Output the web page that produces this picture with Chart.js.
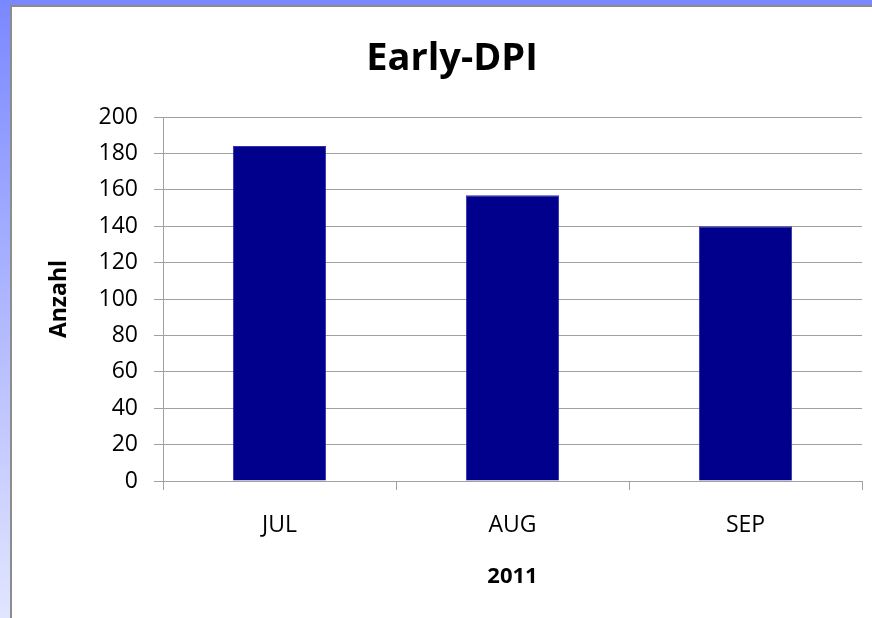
<!DOCTYPE html>
<html>
<head>
<meta charset="utf-8">
<script src="https://cdn.jsdelivr.net/npm/chart.js@4"></script>
<style>
  html, body { margin: 0; padding: 0; }
  body {
    width: 872px; height: 618px; overflow: hidden; position: relative;
    background: linear-gradient(to bottom, #7a88ff 0%, #b4bcff 55%, #e2e5ff 100%);
  }
  #panel {
    position: absolute; left: 10px; top: 5px; width: 860px; height: 611px;
    background: #fff;
    border-left: 2px solid #8c8c8c; border-top: 2px solid #8c8c8c;
  }
  #chart { display: block; }
</style>
</head>
<body>
<div id="panel"><canvas id="chart" width="860" height="611"></canvas></div>
<script>
// --- DATA ---
const months = ['JUL', 'AUG', 'SEP'];
const counts = [184, 157, 140];
const yTicks = [0, 20, 40, 60, 80, 100, 120, 140, 160, 180, 200];

const fontFamily = "'Open Sans', 'Liberation Sans', sans-serif";
const gridColor = '#a0a0a0';

const ctx = document.getElementById('chart').getContext('2d');
new Chart(ctx, {
  type: 'bar',
  data: {
    labels: months,
    datasets: [{
      label: 'Early-DPI',
      data: counts,
      backgroundColor: '#00008c',
      borderColor: '#3030a8',
      borderWidth: 1,
      categoryPercentage: 1.0,
      barPercentage: 0.4
    }]
  },
  options: {
    responsive: false,
    animation: false,
    // left padding shifts the title centre to the right, y axis width compensates
    layout: { padding: { left: 30, right: 10, top: 0, bottom: 22 } },
    plugins: {
      legend: { display: false },
      tooltip: { enabled: false },
      title: {
        display: true,
        text: 'Early-DPI',
        color: '#000',
        font: { family: fontFamily, size: 38, weight: 'bold', lineHeight: 1.2 },
        padding: { top: 29, bottom: 35.4 }
      }
    },
    scales: {
      x: {
        grid: {
          drawOnChartArea: false,
          drawTicks: true,
          tickLength: 9,
          color: gridColor,
          offset: true
        },
        border: { display: true, color: gridColor, width: 1 },
        ticks: {
          color: '#000',
          padding: 22,
          font: { family: fontFamily, size: 23 }
        },
        title: {
          display: true,
          text: '2011',
          color: '#000',
          font: { family: fontFamily, size: 22, weight: 'bold', lineHeight: 1.2 },
          padding: { top: 2, bottom: 6 }
        }
      },
      y: {
        min: 0,
        max: 200,
        afterBuildTicks: (scale) => { scale.ticks = yTicks.map(v => ({ value: v })); },
        afterFit: (scale) => { scale.width = 121; },
        grid: {
          color: gridColor,
          drawTicks: true,
          tickLength: 9
        },
        border: { display: true, color: gridColor, width: 1 },
        ticks: {
          color: '#000',
          padding: 16,
          font: { family: fontFamily, size: 23 }
        },
        title: {
          display: true,
          text: 'Anzahl',
          color: '#000',
          font: { family: fontFamily, size: 23, weight: 'bold', lineHeight: 1.2 },
          padding: { top: 4, bottom: 0 }
        }
      }
    }
  }
});
</script>
</body>
</html>
